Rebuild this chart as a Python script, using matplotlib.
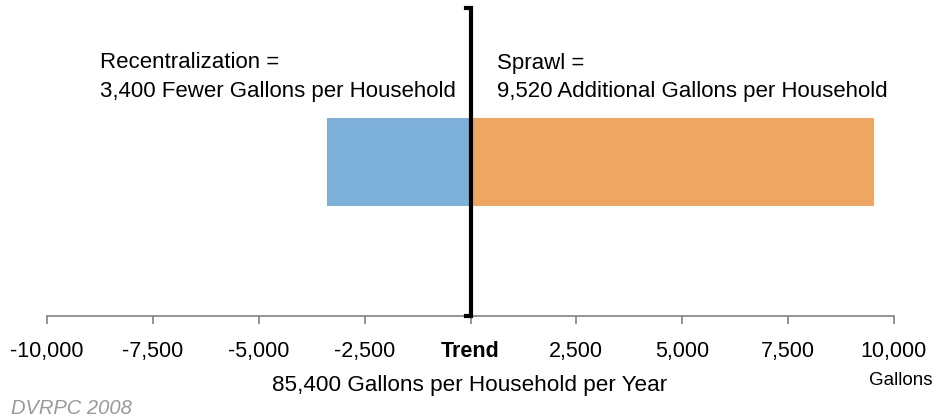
import matplotlib
matplotlib.use('Agg')
import matplotlib.pyplot as plt

plt.rcParams['font.family'] = ['Liberation Sans', 'DejaVu Sans']

# data
scenarios = ['Recentralization', 'Sprawl']
changes = [-3400, 9520]
bar_colors = ['#7DB0D8', '#EDA762']
tick_values = [-10000, -7500, -5000, -2500, 0, 2500, 5000, 7500, 10000]
tick_labels = ['-10,000', '-7,500', '-5,000', '-2,500', 'Trend',
               '2,500', '5,000', '7,500', '10,000']
trend_total = '85,400 Gallons per Household per Year'

W, H = 936, 419
fig = plt.figure(figsize=(W / 100, H / 100), dpi=100)
ax = fig.add_axes([47/W, 1 - 316/H, 847/W, 308/H])

for val, col in zip(changes, bar_colors):
    ax.barh(0.5, val, height=0.286, left=0, color=col, zorder=2)

ax.set_xlim(-10000, 10000)
ax.set_ylim(0, 1)

# trend line with small hooks
hook = 110
ax.plot([-hook, 0, 0, -hook], [1, 1, 0, 0], color='black', lw=3,
        solid_joinstyle='miter', zorder=3, clip_on=False)

for s in ['top', 'right', 'left']:
    ax.spines[s].set_visible(False)
ax.spines['bottom'].set_color('#808080')
ax.spines['bottom'].set_linewidth(1.2)
ax.set_yticks([])
ax.set_xticks(tick_values)
ax.set_xticklabels(tick_labels, fontsize=15.5)
ax.tick_params(axis='x', length=6, width=1.2, color='#808080', pad=12)
ax.get_xticklabels()[4].set_fontweight('bold')

def px_text(x, y, s, **kw):
    fig.text(x / W, 1 - y / H, s, **kw)

px_text(100, 63, 'Recentralization =', fontsize=16, va='center')
px_text(100, 91, '3,400 Fewer Gallons per Household', fontsize=16, va='center')
px_text(497, 63, 'Sprawl =', fontsize=16, va='center')
px_text(497, 91, '9,520 Additional Gallons per Household', fontsize=16, va='center')

px_text(470, 385, trend_total, fontsize=16.2, ha='center', va='center')
px_text(932, 380, 'Gallons', fontsize=13.5, ha='right', va='center')
px_text(11, 408, 'DVRPC 2008', fontsize=14.5, va='center',
        color='#999999', style='italic')

fig.savefig('out.png', dpi=100)
